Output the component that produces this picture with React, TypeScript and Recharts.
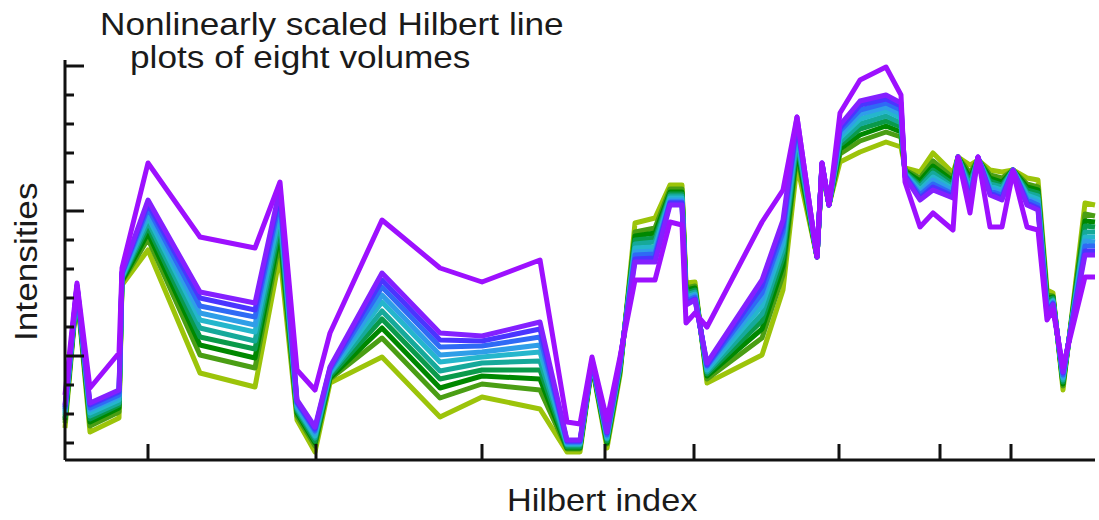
import React from "react";
import { LineChart, Line, XAxis, YAxis } from "recharts";

// Hilbert index of each vertex (shared by all volumes)
const hilbertIndex = [
  0, 12, 25, 54, 57, 83, 135, 190, 215, 232, 250, 265, 317, 375, 417, 475, 502, 515, 527, 542, 555,
  570, 590, 605, 617, 621, 630, 642, 697, 718, 732, 752, 757, 764, 775, 795, 821, 836, 840, 855, 868,
  888, 893, 905, 913, 925, 937, 948, 962, 973, 982, 988, 998, 1020, 1030,
];

// intensities, one array per volume (top of the band first)
const vol0 = [
  55, 175, 57, 70, 188, 260, 168, 157, 272, 60, 33, 93, 187, 127, 124, 138, 20, 20, 100, 28, 100,
  198, 198, 255, 255, 155, 160, 97, 180, 240, 343, 203, 297, 255, 335, 359, 365, 357, 283, 260, 270,
  262, 303, 257, 303, 265, 260, 290, 255, 250, 145, 155, 88, 205, 205,
];
const vol1 = [
  53, 174, 55, 68, 187, 256, 162, 150, 267, 58, 31, 92, 180, 120, 119, 131, 19, 19, 100, 27, 99,
  201, 202, 257, 257, 157, 161, 95, 174, 234, 339, 203, 297, 255, 332, 355, 361, 354, 284, 262, 273,
  264, 303, 260, 303, 267, 262, 290, 257, 252, 147, 156, 87, 209, 209,
];
const vol2 = [
  51, 174, 52, 65, 186, 252, 154, 143, 261, 57, 29, 90, 173, 113, 114, 123, 18, 18, 99, 25, 97,
  205, 206, 258, 258, 159, 163, 94, 167, 228, 335, 203, 296, 255, 329, 350, 357, 350, 285, 265, 276,
  266, 303, 264, 302, 269, 265, 290, 260, 255, 149, 157, 85, 214, 214,
];
const vol3 = [
  49, 173, 50, 63, 185, 247, 147, 135, 255, 55, 27, 89, 165, 105, 108, 115, 17, 17, 98, 24, 96,
  208, 209, 260, 260, 161, 165, 92, 161, 222, 331, 203, 296, 255, 325, 346, 353, 346, 285, 267, 280,
  269, 303, 267, 302, 272, 267, 290, 262, 258, 152, 158, 83, 219, 218,
];
const vol4 = [
  47, 173, 47, 60, 183, 243, 140, 128, 249, 53, 24, 87, 158, 98, 103, 108, 16, 16, 98, 22, 95,
  212, 213, 262, 262, 163, 166, 90, 154, 216, 326, 203, 295, 255, 322, 341, 349, 342, 286, 270, 283,
  271, 303, 270, 302, 274, 270, 290, 265, 261, 154, 159, 82, 223, 223,
];
const vol5 = [
  45, 172, 44, 57, 182, 238, 132, 119, 242, 51, 22, 86, 149, 89, 97, 99, 15, 15, 97, 21, 93,
  216, 218, 264, 264, 165, 168, 88, 146, 209, 321, 203, 295, 255, 318, 336, 344, 337, 287, 273, 287,
  273, 303, 274, 302, 276, 273, 290, 267, 264, 156, 160, 80, 228, 228,
];
const vol6 = [
  42, 171, 41, 55, 181, 233, 123, 111, 235, 49, 19, 84, 141, 81, 90, 90, 13, 13, 97, 19, 92,
  220, 222, 266, 266, 167, 170, 86, 139, 202, 317, 203, 294, 255, 315, 331, 339, 333, 288, 275, 290,
  276, 303, 278, 301, 279, 275, 290, 270, 267, 159, 162, 78, 234, 233,
];
const vol7 = [
  40, 170, 38, 52, 179, 227, 115, 102, 228, 47, 17, 82, 132, 72, 84, 81, 12, 12, 96, 17, 90,
  224, 227, 268, 268, 170, 172, 84, 131, 194, 311, 203, 294, 255, 311, 325, 334, 328, 289, 279, 294,
  279, 303, 282, 301, 282, 278, 290, 273, 270, 162, 163, 76, 239, 238,
];
const vol8 = [
  37, 170, 34, 48, 178, 221, 105, 92, 220, 44, 14, 81, 122, 62, 76, 70, 11, 11, 95, 16, 88,
  228, 232, 271, 271, 172, 174, 81, 122, 185, 306, 203, 293, 255, 306, 319, 328, 323, 290, 282, 299,
  282, 303, 287, 301, 285, 282, 290, 276, 273, 165, 164, 74, 246, 244,
];
const vol9 = [
  32, 168, 28, 42, 175, 210, 87, 73, 205, 40, 8, 77, 103, 43, 63, 51, 8, 8, 94, 12, 85,
  237, 242, 275, 275, 177, 178, 77, 105, 170, 295, 203, 292, 255, 298, 308, 318, 313, 292, 288, 307,
  287, 303, 295, 300, 290, 288, 290, 282, 280, 170, 167, 70, 257, 255,
];
// the one volume that sits apart from the band
const outlier = [
  65, 177, 72, 107, 192, 297, 223, 212, 278, 90, 70, 127, 240, 192, 178, 200, 38, 36, 103, 40, 103,
  180, 180, 238, 235, 137, 147, 133, 238, 270, 343, 203, 297, 255, 347, 380, 393, 365, 278, 233, 247,
  230, 303, 247, 303, 233, 233, 288, 233, 230, 140, 150, 93, 183, 183,
];

const xTicks = [83, 251, 417, 540, 629, 774, 875, 946];
const yTicks = [17, 46, 75, 104, 133, 162, 191, 220, 249, 278, 307, 336, 365, 394];
const yMajor = [104, 249, 394];

// drawn back to front: yellow-green first, purple last
const series = [
  { key: "vol9", color: "#9cc40a", values: vol9 },
  { key: "vol8", color: "#4a9e14", values: vol8 },
  { key: "vol7", color: "#008800", values: vol7 },
  { key: "vol6", color: "#0a9a4a", values: vol6 },
  { key: "vol5", color: "#16a99a", values: vol5 },
  { key: "vol4", color: "#25b6cc", values: vol4 },
  { key: "vol3", color: "#2f9ee8", values: vol3 },
  { key: "vol2", color: "#2f6af5", values: vol2 },
  { key: "vol1", color: "#4a35ff", values: vol1 },
  { key: "vol0", color: "#8420ff", values: vol0 },
  { key: "outlier", color: "#9d10ff", values: outlier },
];

const data = hilbertIndex.map((h, i) => {
  const row: Record<string, number> = { h };
  series.forEach((s) => {
    row[s.key] = s.values[i];
  });
  return row;
});

const font = "'Liberation Sans', Arial, sans-serif";

function YTick({ x, y, payload }: any) {
  const len = yMajor.includes(payload.value) ? 19 : 9;
  return <line x1={x} x2={x + len} y1={y} y2={y} stroke="#111" strokeWidth={3} />;
}

function XTick({ x, y }: any) {
  return <line x1={x} x2={x} y1={y} y2={y - 16} stroke="#111" strokeWidth={3} />;
}

const textStyle: React.CSSProperties = {
  position: "absolute",
  fontFamily: font,
  fontSize: 32,
  lineHeight: "32px",
  color: "#1a1a1a",
  whiteSpace: "nowrap",
  transformOrigin: "left top",
};

export default function App() {
  return (
    <div style={{ position: "absolute", left: 0, top: 0, width: 1099, height: 520, background: "#fff" }}>
      <LineChart width={1099} height={520} data={data} margin={{ top: 60, right: 4, left: 0, bottom: 0 }}>
        <XAxis
          dataKey="h"
          type="number"
          domain={[0, 1030]}
          ticks={xTicks}
          interval={0}
          height={60}
          tickSize={0}
          tickMargin={0}
          tickLine={false}
          axisLine={{ stroke: "#111", strokeWidth: 3 }}
          tick={<XTick />}
        />
        <YAxis
          type="number"
          domain={[0, 400]}
          ticks={yTicks}
          interval={0}
          width={65}
          tickSize={0}
          tickMargin={0}
          tickLine={false}
          axisLine={{ stroke: "#111", strokeWidth: 3 }}
          tick={<YTick />}
        />
        {series.map((s) => (
          <Line
            key={s.key}
            dataKey={s.key}
            type="linear"
            stroke={s.color}
            strokeWidth={5}
            strokeLinejoin="round"
            dot={false}
            activeDot={false}
            isAnimationActive={false}
          />
        ))}
      </LineChart>
      <div style={{ ...textStyle, left: 100, top: 8, transform: "scaleX(1.1)" }}>
        Nonlinearly scaled Hilbert line
      </div>
      <div style={{ ...textStyle, left: 130, top: 41, transform: "scaleX(1.1)" }}>
        plots of eight volumes
      </div>
      <div style={{ ...textStyle, left: 507, top: 484, transform: "scaleX(1.07)" }}>Hilbert index</div>
      <div
        style={{
          ...textStyle,
          left: 10,
          top: 341,
          transform: "rotate(-90deg) scaleX(1.1)",
        }}
      >
        Intensities
      </div>
    </div>
  );
}
